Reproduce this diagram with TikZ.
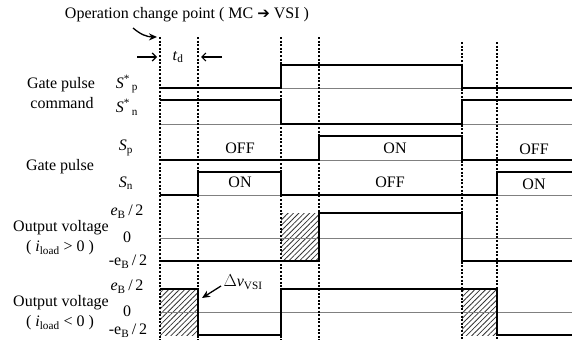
\documentclass[tikz,border=0pt]{standalone}
\usepackage{fontspec}
\setmainfont{Liberation Serif}
\newfontfamily\symfont{DejaVu Sans}
\usetikzlibrary{arrows.meta, patterns.meta}

\tikzset{
  sig/.style={line width=1.3pt, line join=miter},
  zeroline/.style={gray, line width=0.8pt},
  tline/.style={line width=1.1pt, dash pattern=on 2pt off 1.6pt},
  hatch/.style={pattern={Lines[angle=45,distance=3.8pt,line width=0.8pt]}, pattern color=black!80},
  pointer/.style={-{Stealth[length=8pt,width=7pt]}, line width=1.3pt},
  tdarrow/.style={-{Straight Barb[length=4pt,width=8pt]}, line width=1.2pt},
}

\begin{document}
\begin{tikzpicture}[x=1pt, y=-1pt, font=\fontsize{16}{18}\selectfont]
\useasboundingbox (0,0) rectangle (578,340);

% Hatched transition areas
\fill[hatch] (281,213) rectangle (319,261);
\fill[hatch] (160,289) rectangle (198,335);
\fill[hatch] (462,289) rectangle (497,335);

% Base lines
\foreach \y in {88, 124, 160, 195, 238, 312}
  \draw[zeroline] (160,\y) -- (572,\y);

% Timing marks
\foreach \x/\y in {160/37, 198/37, 281/37, 319/37, 462/42, 497/42}
  \draw[tline] (\x,\y) -- (\x,340);

% Gate pulse command
\draw[sig] (160,88) -- (281,88) -- (281,65) -- (462,65) -- (462,88) -- (572,88);
\draw[sig] (160,100) -- (281,100) -- (281,124) -- (462,124) -- (462,100) -- (572,100);

% Gate pulse
\draw[sig] (160,160) -- (319,160) -- (319,136) -- (462,136) -- (462,160) -- (572,160);
\draw[sig] (160,195) -- (198,195) -- (198,172) -- (281,172) -- (281,195) -- (497,195) -- (497,172) -- (572,172);
\node (off1) at (240,148) {OFF};
\node (on1) at (395,148) {ON};
\node (off2) at (534,149) {OFF};
\node (on2) at (240,182) {ON};
\node (off3) at (390,182) {OFF};
\node (on3) at (534,184) {ON};

% Output voltage
\draw[sig] (160,261) -- (319,261) -- (319,213) -- (462,213) -- (462,261) -- (572,261);
\draw[sig] (160,289) -- (198,289) -- (198,335) -- (281,335) -- (281,289) -- (497,289) -- (497,335) -- (572,335);

% Row labels
\node (gpc1) at (61,85) {Gate pulse};
\node (gpc2) at (62,103) {command};
\node (gp) at (60,167) {Gate pulse};
\node (ovp1) at (61,228) {Output voltage};
\node (ovp2) at (60,248) {( \textit{i}\textsubscript{load} \textgreater{} 0 )};
\node (ovn1) at (61,303) {Output voltage};
\node (ovn2) at (60,323) {( \textit{i}\textsubscript{load} \textless{} 0 )};

\node (sps) at (127,84) {\textit{S}\textsuperscript{*}\textsubscript{\,p}};
\node (sns) at (127,107) {\textit{S}\textsuperscript{*}\textsubscript{\,n}};
\node (sp) at (126,148) {\textit{S}\textsubscript{p}};
\node (sn) at (126,183) {\textit{S}\textsubscript{n}};
\node (eph) at (127,212) {\textit{e}\textsubscript{B}\,/\,2};
\node (epz) at (127,237) {0};
\node (epl) at (128,262) {-e\textsubscript{B}\,/\,2};
\node (enh) at (127,287) {\textit{e}\textsubscript{B}\,/\,2};
\node (enz) at (127,311) {0};
\node (enl) at (128,331) {-e\textsubscript{B}\,/\,2};

% Operation change point and dead time
\node (title) at (187,15) {Operation change point ( MC {\symfont\fontsize{15}{17}\selectfont ➔} VSI )};
\coordinate (cpfrom) at (133,28);
\coordinate (cpto) at (157,37);
\draw[pointer] (cpfrom) to[bend right=20] (cpto);
\node (td) at (178,57) {\textit{t}\textsubscript{d}};
\coordinate (tdl) at (137,57);
\coordinate (tdla) at (157,57);
\coordinate (tdr) at (222,57);
\coordinate (tdra) at (201,57);
\draw[tdarrow] (tdl) -- (tdla);
\draw[tdarrow] (tdr) -- (tdra);

% Voltage error
\node (dv) at (243,282) {$\Delta$\textit{v}\textsubscript{VSI}};
\coordinate (dvfrom) at (221,286);
\coordinate (dvto) at (202,298);
\draw[pointer] (dvfrom) -- (dvto);
\end{tikzpicture}
\end{document}
